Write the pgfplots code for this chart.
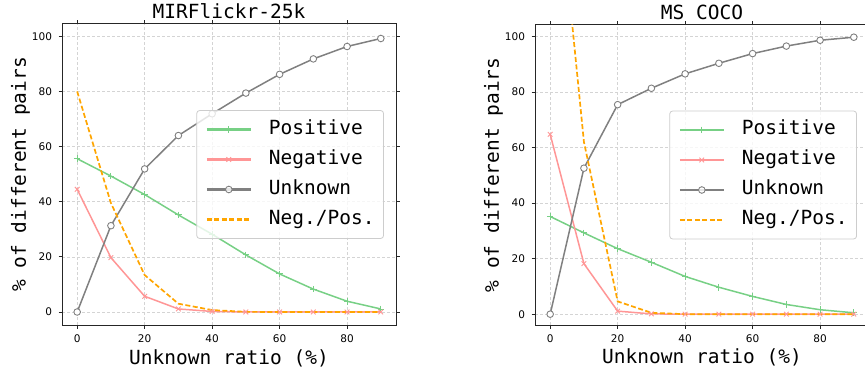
\documentclass[border=0pt]{standalone}
\usepackage{fontspec}
\setmainfont{DejaVu Sans}
\newfontfamily\mono{DejaVu Sans Mono}
\usepackage{pgfplots}
\pgfplotsset{compat=1.18}
\definecolor{cpos}{RGB}{119,208,133}
\definecolor{cneg}{RGB}{255,150,150}
\definecolor{cunk}{RGB}{128,128,128}
\definecolor{crat}{RGB}{255,165,0}
\definecolor{cgrid}{RGB}{212,212,212}
\definecolor{clegbox}{RGB}{205,205,205}
\definecolor{cspine}{RGB}{38,38,38}
\newcommand\lblfont{\mono\fontsize{19.5}{23}\selectfont}
\pgfplotsset{
 myax/.style={
  scale only axis, width=334pt,
  xmin=-4.5, xmax=94.5,
  xtick={0,20,40,60,80}, ytick={0,20,40,60,80,100},
  tick align=outside, major tick length=3.5pt,
  tick style={cspine, line width=0.8pt},
  axis line style={cspine, line width=1pt},
  grid=major, grid style={cgrid, dash pattern=on 3pt off 2pt, line width=0.6pt},
  ticklabel style={font=\fontsize{10.5}{12}\selectfont},
  /pgf/number format/assume math mode=true,
  xticklabel style={yshift=-3pt},
  yticklabel style={xshift=-3pt},
  title style={font=\lblfont, at={(axis description cs:0.5,0.999)}, anchor=base, yshift=0pt, inner sep=0pt},
  xlabel style={font=\lblfont, at={(axis description cs:0.5,-0.1296)}, anchor=base, inner sep=0pt},
  ylabel style={font=\lblfont, at={(axis description cs:-0.1078,0.5)}, anchor=base, inner sep=0pt},
  xlabel={Unknown ratio (\%)}, ylabel={\% of different pairs},
  legend image code/.code={\draw[mark repeat=2,mark phase=2, line width=2.2pt] plot coordinates {(0pt,0pt) (22pt,0pt) (44pt,0pt)};},
  legend cell align=left,
  legend style={at={(axis description cs:0.964,0.5)}, anchor=east, draw=clegbox, line width=0.8pt, rounded corners=3pt, fill=white, fill opacity=0.8, draw opacity=1, text opacity=1, font=\lblfont, inner xsep=9pt, inner ysep=10pt, row sep=12pt, column sep=17pt, nodes={inner sep=0pt, text height=14pt, text depth=4pt}},
 },
 pos/.style={cpos, line width=1.5pt, mark=+, mark size=3.3pt, mark options={line width=0.9pt}},
 neg/.style={cneg, line width=1.5pt, mark=x, mark size=3.3pt, mark options={line width=0.9pt}},
 unk/.style={cunk, line width=1.5pt, mark=*, mark size=3.3pt, mark options={fill=white, draw=cunk, line width=0.9pt}},
 rat/.style={crat, line width=1.7pt, dash pattern=on 5pt off 2.5pt, mark=none},
}
\begin{document}
\begin{tikzpicture}
\path[use as bounding box] (0pt,0pt) rectangle (865pt,370pt);
\begin{axis}[myax, at={(62pt,45pt)}, anchor=south west, height=301pt,
  ymin=-4.72, ymax=104.46, title={MIRFlickr-25k}]
\addplot[pos] coordinates {(0,55.6)(10,49.3)(20,42.6)(30,35.2)(40,28.2)(50,20.7)(60,13.8)(70,8.3)(80,3.9)(90,1.1)};
\addlegendentry{Positive}
\addplot[neg] coordinates {(0,44.5)(10,19.7)(20,5.7)(30,1.1)(40,0.2)(50,0)(60,0)(70,0)(80,0)(90,0)};
\addlegendentry{Negative}
\addplot[unk] coordinates {(0,0)(10,31.3)(20,51.9)(30,64.0)(40,71.9)(50,79.4)(60,86.2)(70,91.8)(80,96.3)(90,99.2)};
\addlegendentry{Unknown}
\addplot[rat] coordinates {(0,80.0)(10,39.5)(20,13.4)(30,3.0)(40,0.7)(50,0.05)(60,0)(70,0)(80,0)(90,0)};
\addlegendentry{Neg./Pos.}
\end{axis}
\begin{axis}[myax, at={(535pt,45pt)}, anchor=south west, height=300pt,
  ymin=-3.9, ymax=104.2, title={MS COCO}]
\addplot[pos] coordinates {(0,35.2)(10,29.3)(20,23.6)(30,18.7)(40,13.6)(50,9.7)(60,6.4)(70,3.5)(80,1.6)(90,0.5)};
\addlegendentry{Positive}
\addplot[neg] coordinates {(0,64.8)(10,18.2)(20,1.1)(30,0.1)(40,0)(50,0)(60,0)(70,0)(80,0)(90,0)};
\addlegendentry{Negative}
\addplot[unk] coordinates {(0,0)(10,52.6)(20,75.5)(30,81.4)(40,86.6)(50,90.4)(60,93.9)(70,96.6)(80,98.7)(90,99.8)};
\addlegendentry{Unknown}
\addplot[rat] coordinates {(0,184.1)(10,62.1)(20,4.6)(30,0.5)(40,0)(50,0)(60,0)(70,0)(80,0)(90,0)};
\addlegendentry{Neg./Pos.}
\end{axis}
\end{tikzpicture}
\end{document}
